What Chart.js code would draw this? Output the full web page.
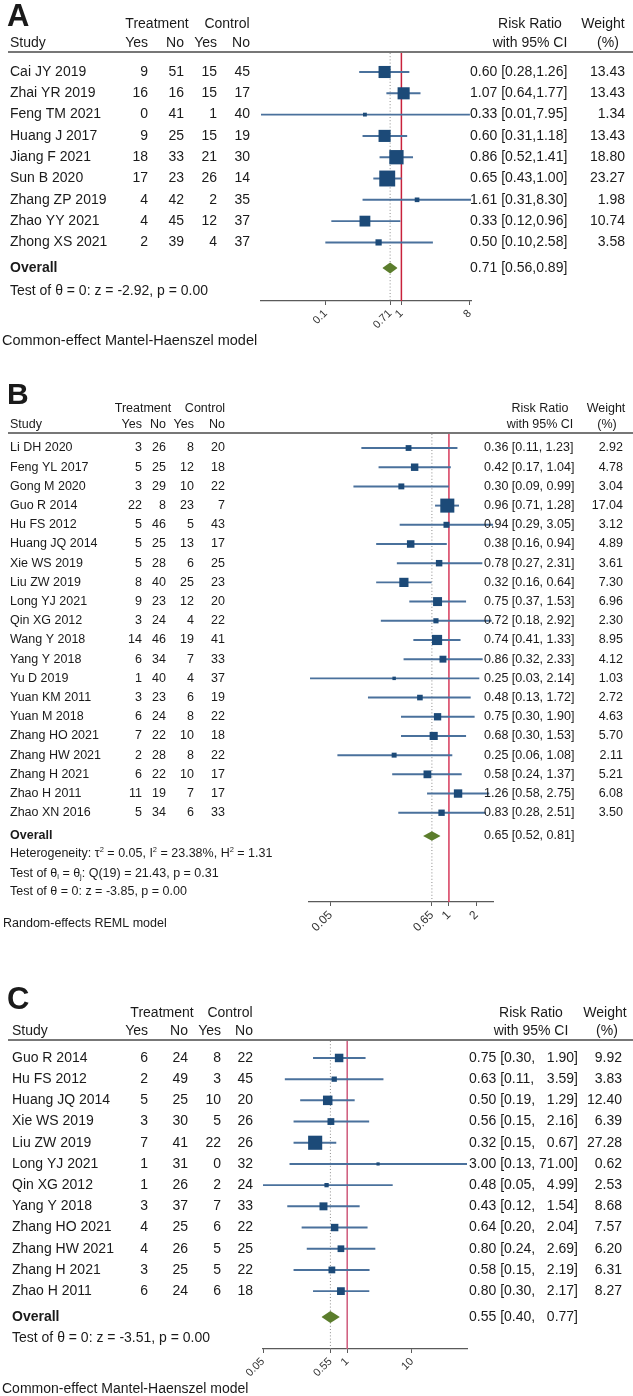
<!DOCTYPE html>
<html><head><meta charset="utf-8">
<script src="https://cdn.jsdelivr.net/npm/chart.js@4.4.1/dist/chart.umd.min.js"></script>
<style>
html,body{margin:0;padding:0;background:#fff;}
#wrap{position:relative;width:633px;height:1396px;overflow:hidden;background:#fff;}
canvas{position:absolute;left:0;}
</style></head><body>
<div id="wrap">
<canvas id="cA" width="633" height="360" style="top:0px"></canvas>
<canvas id="cB" width="633" height="615" style="top:360px"></canvas>
<canvas id="cC" width="633" height="421" style="top:975px"></canvas>
</div>
<script>
// ---------------- Panel A data ----------------
const A_studies = ['Cai JY 2019','Zhai YR 2019','Feng TM 2021','Huang J 2017','Jiang F 2021','Sun B 2020','Zhang ZP 2019','Zhao YY 2021','Zhong XS 2021'];
const A_treatYes = [9,16,0,9,18,17,4,4,2];
const A_treatNo  = [51,16,41,25,33,23,42,45,39];
const A_ctrlYes  = [15,15,1,15,21,26,2,12,4];
const A_ctrlNo   = [45,17,40,19,30,14,35,37,37];
const A_rr = [0.60,1.07,0.33,0.60,0.86,0.65,1.61,0.33,0.50];
const A_lo = [0.28,0.64,0.01,0.31,0.52,0.43,0.31,0.12,0.10];
const A_hi = [1.26,1.77,7.95,1.18,1.41,1.00,8.30,0.96,2.58];
const A_weight = [13.43,13.43,1.34,13.43,18.80,23.27,1.98,10.74,3.58];
const A_overall = [0.71,0.56,0.89];
const A_tickValues = [0.1,0.71,1,8];
const A_tickLabels = ['0.1','0.71','1','8'];
const A_notes = ['Test of θ = 0: z = -2.92, p = 0.00'];
const A_model = 'Common-effect Mantel-Haenszel model';

// ---------------- Panel B data ----------------
const B_studies = ['Li DH 2020','Feng YL 2017','Gong M 2020','Guo R 2014','Hu FS 2012','Huang JQ 2014','Xie WS 2019','Liu ZW 2019','Long YJ 2021','Qin XG 2012','Wang Y 2018','Yang Y 2018','Yu D 2019','Yuan KM 2011','Yuan M 2018','Zhang HO 2021','Zhang HW 2021','Zhang H 2021','Zhao H 2011','Zhao XN 2016'];
const B_treatYes = [3,5,3,22,5,5,5,8,9,3,14,6,1,3,6,7,2,6,11,5];
const B_treatNo  = [26,25,29,8,46,25,28,40,23,24,46,34,40,23,24,22,28,22,19,34];
const B_ctrlYes  = [8,12,10,23,5,13,6,25,12,4,19,7,4,6,8,10,8,10,7,6];
const B_ctrlNo   = [20,18,22,7,43,17,25,23,20,22,41,33,37,19,22,18,22,17,17,33];
const B_rr = [0.36,0.42,0.30,0.96,0.94,0.38,0.78,0.32,0.75,0.72,0.74,0.86,0.25,0.48,0.75,0.68,0.25,0.58,1.26,0.83];
const B_lo = [0.11,0.17,0.09,0.71,0.29,0.16,0.27,0.16,0.37,0.18,0.41,0.32,0.03,0.13,0.30,0.30,0.06,0.24,0.58,0.28];
const B_hi = [1.23,1.04,0.99,1.28,3.05,0.94,2.31,0.64,1.53,2.92,1.33,2.33,2.14,1.72,1.90,1.53,1.08,1.37,2.75,2.51];
const B_weight = [2.92,4.78,3.04,17.04,3.12,4.89,3.61,7.30,6.96,2.30,8.95,4.12,1.03,2.72,4.63,5.70,2.11,5.21,6.08,3.50];
const B_overall = [0.65,0.52,0.81];
const B_tickValues = [0.05,0.65,1,2];
const B_tickLabels = ['0.05','0.65','1','2'];
const B_notes = ['Heterogeneity: τ^{2} = 0.05, I^{2} = 23.38%, H^{2} = 1.31','Test of θ_{i} = θ_{j}: Q(19) = 21.43, p = 0.31','Test of θ = 0: z = -3.85, p = 0.00'];
const B_model = 'Random-effects REML model';

// ---------------- Panel C data ----------------
const C_studies = ['Guo R 2014','Hu FS 2012','Huang JQ 2014','Xie WS 2019','Liu ZW 2019','Long YJ 2021','Qin XG 2012','Yang Y 2018','Zhang HO 2021','Zhang HW 2021','Zhang H 2021','Zhao H 2011'];
const C_treatYes = [6,2,5,3,7,1,1,3,4,4,3,6];
const C_treatNo  = [24,49,25,30,41,31,26,37,25,26,25,24];
const C_ctrlYes  = [8,3,10,5,22,0,2,7,6,5,5,6];
const C_ctrlNo   = [22,45,20,26,26,32,24,33,22,25,22,18];
const C_rr = [0.75,0.63,0.50,0.56,0.32,3.00,0.48,0.43,0.64,0.80,0.58,0.80];
const C_lo = [0.30,0.11,0.19,0.15,0.15,0.13,0.05,0.12,0.20,0.24,0.15,0.30];
const C_hi = [1.90,3.59,1.29,2.16,0.67,71.00,4.99,1.54,2.04,2.69,2.19,2.17];
const C_weight = [9.92,3.83,12.40,6.39,27.28,0.62,2.53,8.68,7.57,6.20,6.31,8.27];
const C_overall = [0.55,0.40,0.77];
const C_tickValues = [0.05,0.55,1,10];
const C_tickLabels = ['0.05','0.55','1','10'];
const C_notes = ['Test of θ = 0: z = -3.51, p = 0.00'];
const C_model = 'Common-effect Mantel-Haenszel model';

const headTop = ['Treatment','Control','Risk Ratio','Weight'];
const headBot = ['Study','Yes','No','Yes','No','with 95% CI','(%)'];
const overallLabel = 'Overall';

// ---------------- layout (positions / styles only) ----------------
const FAM = "'Liberation Sans', Arial, Helvetica, sans-serif";
Chart.defaults.font.family = FAM;

const LA = { letter:'A', letterRow:-2.16, letterX:7, letterFs:31, hdrTop:-2.25, hdrBot:-1.36,
  rowMin:-0.892, rowMax:10.75, padTop:53, padBottom:19, axisH:40, padLeft:261, padRight:162,
  xMin:0.014, xMax:8.3, overallRow:9.2, noteRows:[10.28], modelRow:12.63, modelX:2,
  fs:14, footFs:14.5, tickFs:11, rrSep:',', rrAligned:false,
  c:{name:10,tYes:148,tNo:184,cYes:217,cNo:250,trt:157,ctl:227,rrL:470,rrC:530,wtR:625,wtC:603,pctC:608},
  sq:3.3, sqMin:3.6, dH:0.26, ciColor:'#4a719c', sqColor:'#1c4a78', dColor:'#5b7d2c', refColor:'#c8213b' };
const LB = { letter:'B', letterRow:-2.29, letterX:7, letterFs:30, hdrTop:-2.08, hdrBot:-1.2,
  rowMin:-0.73, rowMax:23.65, padTop:74, padBottom:28, axisH:45, padLeft:309, padRight:140,
  xMin:0.029, xMax:3.05, overallRow:20.21, noteRows:[21.15,22.19,23.13], modelRow:24.79, modelX:3,
  fs:12.5, footFs:12.5, tickFs:12, rrSep:', ', rrAligned:false,
  c:{name:10,tYes:142,tNo:166,cYes:194,cNo:225,trt:143,ctl:205,rrL:484,rrC:540,wtR:623,wtC:606,pctC:607},
  sq:3.4, sqMin:3.4, dH:0.245, ciColor:'#4a719c', sqColor:'#1c4a78', dColor:'#5b7d2c', refColor:'#d63a5c' };
const LC = { letter:'C', letterRow:-2.3, letterX:7, letterFs:31, hdrTop:-2.12, hdrBot:-1.27,
  rowMin:-0.80, rowMax:13.73, padTop:66, padBottom:7, axisH:40, padLeft:263, padRight:166,
  xMin:0.05, xMax:71, overallRow:12.22, noteRows:[13.21], modelRow:15.61, modelX:2,
  fs:14, footFs:14, tickFs:11, rrSep:', ', rrAligned:true,
  c:{name:12,tYes:148,tNo:188,cYes:221,cNo:253,trt:162,ctl:230,rrL:469,rrHiR:578,rrC:531,wtR:622,wtC:605,pctC:607},
  sq:2.7, sqMin:3.2, dH:0.28, ciColor:'#4a719c', sqColor:'#1c4a78', dColor:'#5b7d2c', refColor:'#cf5a7c' };

const DA = {studies:A_studies,tY:A_treatYes,tN:A_treatNo,cY:A_ctrlYes,cN:A_ctrlNo,rr:A_rr,lo:A_lo,hi:A_hi,w:A_weight,overall:A_overall,tv:A_tickValues,tl:A_tickLabels,notes:A_notes,model:A_model};
const DB = {studies:B_studies,tY:B_treatYes,tN:B_treatNo,cY:B_ctrlYes,cN:B_ctrlNo,rr:B_rr,lo:B_lo,hi:B_hi,w:B_weight,overall:B_overall,tv:B_tickValues,tl:B_tickLabels,notes:B_notes,model:B_model};
const DC = {studies:C_studies,tY:C_treatYes,tN:C_treatNo,cY:C_ctrlYes,cN:C_ctrlNo,rr:C_rr,lo:C_lo,hi:C_hi,w:C_weight,overall:C_overall,tv:C_tickValues,tl:C_tickLabels,notes:C_notes,model:C_model};

const registry = {};
const f2 = v => v.toFixed(2);
const fnt = (sz, bold) => (bold ? 'bold ' : '') + sz + 'px ' + FAM;

function drawRich(ctx, str, x, y, size) {
  const parts = str.split(/(\^\{[^}]*\}|_\{[^}]*\})/);
  let cx = x;
  for (const p of parts) {
    if (!p) continue;
    let t = p, dy = 0, sz = size;
    if (p.startsWith('^{')) { t = p.slice(2, -1); sz = size * 0.6; dy = -size * 0.33; }
    else if (p.startsWith('_{')) { t = p.slice(2, -1); sz = size * 0.6; dy = size * 0.22; }
    ctx.font = fnt(sz);
    ctx.fillText(t, cx, y + dy);
    cx += ctx.measureText(t).width;
  }
}

const textPlugin = {
  id: 'forestText',
  afterDraw(chart) {
    const reg = registry[chart.canvas.id];
    if (!reg) return;
    const {d, L} = reg;
    const ctx = chart.ctx, ys = chart.scales.y;
    const Y = v => ys.getPixelForValue(v);
    const c = L.c;
    ctx.save();
    ctx.fillStyle = '#1a1a1a';
    ctx.font = fnt(L.letterFs, true); ctx.textAlign = 'left'; ctx.textBaseline = 'alphabetic';
    ctx.fillText(L.letter, L.letterX, Y(L.letterRow));
    ctx.textBaseline = 'middle';
    ctx.font = fnt(L.fs);
    ctx.textAlign = 'center';
    ctx.fillText(headTop[0], c.trt, Y(L.hdrTop));
    ctx.fillText(headTop[1], c.ctl, Y(L.hdrTop));
    ctx.fillText(headTop[2], c.rrC, Y(L.hdrTop));
    ctx.fillText(headTop[3], c.wtC, Y(L.hdrTop));
    ctx.textAlign = 'left'; ctx.fillText(headBot[0], c.name, Y(L.hdrBot));
    ctx.textAlign = 'right';
    ctx.fillText(headBot[1], c.tYes, Y(L.hdrBot));
    ctx.fillText(headBot[2], c.tNo, Y(L.hdrBot));
    ctx.fillText(headBot[3], c.cYes, Y(L.hdrBot));
    ctx.fillText(headBot[4], c.cNo, Y(L.hdrBot));
    ctx.textAlign = 'center';
    ctx.fillText(headBot[5], c.rrC, Y(L.hdrBot));
    ctx.fillText(headBot[6], c.pctC, Y(L.hdrBot));
    ctx.strokeStyle = '#4a4a4a'; ctx.lineWidth = 1.6;
    ctx.beginPath(); const hy = Y(L.rowMin) - 1; ctx.moveTo(8, hy); ctx.lineTo(633, hy); ctx.stroke();
    d.studies.forEach((s, i) => {
      const y = Y(i);
      ctx.textAlign = 'left'; ctx.fillText(s, c.name, y);
      ctx.textAlign = 'right';
      ctx.fillText(String(d.tY[i]), c.tYes, y);
      ctx.fillText(String(d.tN[i]), c.tNo, y);
      ctx.fillText(String(d.cY[i]), c.cYes, y);
      ctx.fillText(String(d.cN[i]), c.cNo, y);
      if (L.rrAligned) {
        ctx.textAlign = 'left'; ctx.fillText(f2(d.rr[i]) + ' [' + f2(d.lo[i]) + ',', c.rrL, y);
        ctx.textAlign = 'right'; ctx.fillText(f2(d.hi[i]) + ']', c.rrHiR, y);
      } else {
        ctx.textAlign = 'left'; ctx.fillText(f2(d.rr[i]) + ' [' + f2(d.lo[i]) + L.rrSep + f2(d.hi[i]) + ']', c.rrL, y);
      }
      ctx.textAlign = 'right'; ctx.fillText(f2(d.w[i]), c.wtR, y);
    });
    const oy = Y(L.overallRow);
    ctx.textAlign = 'left'; ctx.font = fnt(L.fs, true); ctx.fillText(overallLabel, c.name, oy);
    ctx.font = fnt(L.fs);
    const [oe, olo, ohi] = d.overall;
    if (L.rrAligned) {
      ctx.textAlign = 'left'; ctx.fillText(f2(oe) + ' [' + f2(olo) + ',', c.rrL, oy);
      ctx.textAlign = 'right'; ctx.fillText(f2(ohi) + ']', c.rrHiR, oy);
    } else {
      ctx.textAlign = 'left'; ctx.fillText(f2(oe) + ' [' + f2(olo) + L.rrSep + f2(ohi) + ']', c.rrL, oy);
    }
    ctx.textAlign = 'left';
    d.notes.forEach((t, k) => drawRich(ctx, t, c.name, Y(L.noteRows[k]), L.fs));
    ctx.font = fnt(L.footFs);
    ctx.fillText(d.model, L.modelX, Y(L.modelRow));
    ctx.restore();
  }
};

function makePanel(id, d, L) {
  registry[id] = {d, L};
  const ci = d.studies.map((s, i) => ({x: [d.lo[i], d.hi[i]], y: i}));
  const pts = d.studies.map((s, i) => ({x: d.rr[i], y: i}));
  const radii = d.w.map(w => Math.max(L.sqMin, L.sq * Math.sqrt(w)) / Math.SQRT2);
  const [oe, olo, ohi] = d.overall;
  const r = L.overallRow, h = L.dH;
  const datasets = [
    {type: 'scatter', data: pts, pointStyle: 'rect', pointRadius: radii, pointHoverRadius: radii,
     backgroundColor: L.sqColor, borderColor: L.sqColor, borderWidth: 0, showLine: false},
    {type: 'line', data: [{x: olo, y: r}, {x: oe, y: r - h}, {x: ohi, y: r}], borderColor: 'rgba(0,0,0,0)', borderWidth: 0,
     backgroundColor: L.dColor, fill: {value: r}, pointRadius: 0, tension: 0},
    {type: 'line', data: [{x: olo, y: r}, {x: oe, y: r + h}, {x: ohi, y: r}], borderColor: 'rgba(0,0,0,0)', borderWidth: 0,
     backgroundColor: L.dColor, fill: {value: r}, pointRadius: 0, tension: 0},
    {type: 'bar', indexAxis: 'y', data: ci, backgroundColor: L.ciColor, barThickness: 1.3, borderWidth: 0, grouped: false},
    {type: 'line', data: [{x: 1, y: L.rowMin}, {x: 1, y: L.rowMax}], borderColor: L.refColor, borderWidth: 1.5, pointRadius: 0, fill: false},
    {type: 'line', data: [{x: oe, y: L.rowMin}, {x: oe, y: L.rowMax}], borderColor: '#8c8c8c', borderWidth: 1, borderDash: [1, 2.2], pointRadius: 0, fill: false}
  ];
  return new Chart(document.getElementById(id), {
    type: 'scatter',
    data: {datasets},
    plugins: [textPlugin],
    options: {
      responsive: false, animation: false, devicePixelRatio: 1, events: [],
      layout: {padding: {left: L.padLeft, right: L.padRight, top: L.padTop, bottom: L.padBottom}, autoPadding: false},
      plugins: {legend: {display: false}, tooltip: {enabled: false}, title: {display: false}},
      scales: {
        x: {type: 'logarithmic', position: 'bottom', min: L.xMin, max: L.xMax, bounds: 'data', offset: false, beginAtZero: false,
          afterBuildTicks: s => { s.ticks = d.tv.map(v => ({value: v})); },
          afterFit: s => { s.height = L.axisH; },
          ticks: {autoSkip: false, minRotation: 45, maxRotation: 45, padding: 2, color: '#333',
            font: {size: L.tickFs, family: FAM},
            callback: v => { const k = d.tv.indexOf(v); return k >= 0 ? d.tl[k] : ''; }},
          grid: {drawOnChartArea: false, drawTicks: true, tickLength: 4, color: '#5a5a5a', lineWidth: 1, offset: false},
          border: {display: true, color: '#5a5a5a', width: 1.2}
        },
        y: {type: 'linear', reverse: true, min: L.rowMin, max: L.rowMax, bounds: 'data', display: false,
            offset: false, grid: {offset: false}, beginAtZero: false, grace: 0}
      }
    }
  });
}

makePanel('cA', DA, LA);
makePanel('cB', DB, LB);
makePanel('cC', DC, LC);
</script>
</body></html>
